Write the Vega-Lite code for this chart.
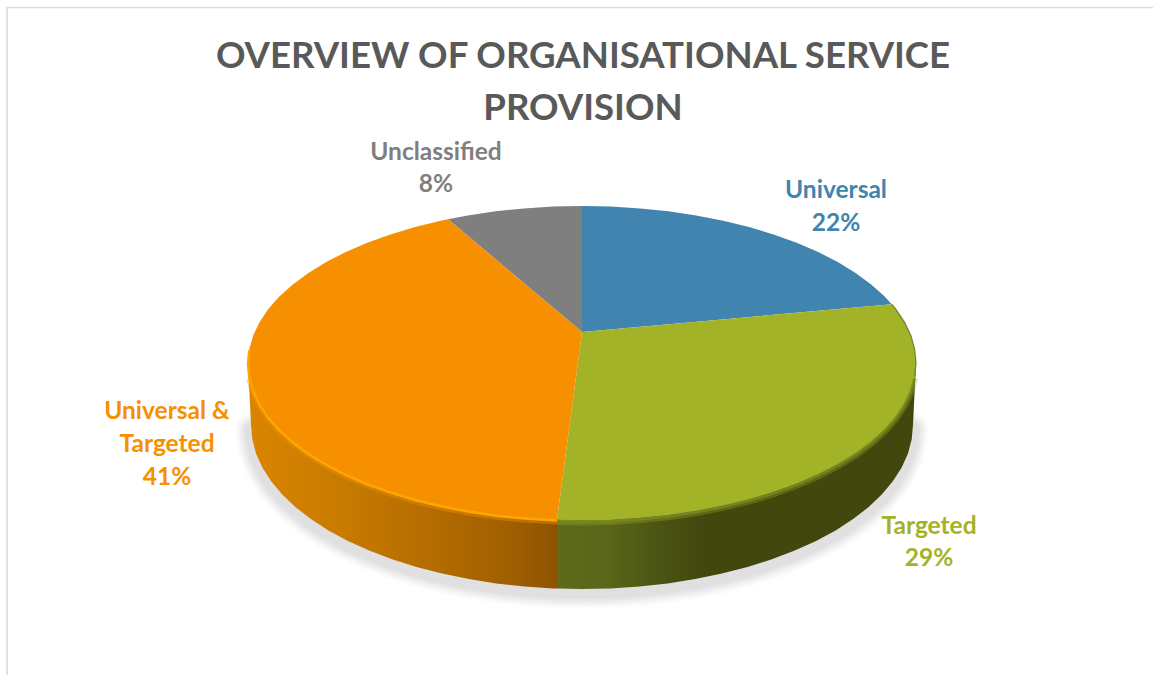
{
"$schema":"https://vega.github.io/schema/vega-lite/v6.json",
"width":1153,"height":675,"padding":0,"autosize":{"type":"none"},"background":"#ffffff",
"config":{"view":{"stroke":null}},
"title":{"text":["OVERVIEW OF ORGANISATIONAL SERVICE","PROVISION"],"anchor":"middle","dx":6.5,"dy":157,"offset":0,"baseline":"alphabetic","font":"Lato","fontSize":36.6,"fontWeight":"bold","lineHeight":52,"color":"#595959"},
"datasets":{
"outline":[
{"part":"universal","i":0,"x":582,"y":332},{"part":"universal","i":1,"x":582,"y":206},{"part":"universal","i":2,"x":611.1,"y":206.6},{"part":"universal","i":3,"x":640,"y":208.4},{"part":"universal","i":4,"x":668.4,"y":211.3},{"part":"universal","i":5,"x":696.2,"y":215.5},{"part":"universal","i":6,"x":723.2,"y":220.7},{"part":"universal","i":7,"x":749,"y":227},{"part":"universal","i":8,"x":773.6,"y":234.4},{"part":"universal","i":9,"x":796.7,"y":242.7},{"part":"universal","i":10,"x":818.2,"y":252},{"part":"universal","i":11,"x":837.8,"y":262.1},{"part":"universal","i":12,"x":855.6,"y":272.9},{"part":"universal","i":13,"x":871.2,"y":284.5},{"part":"universal","i":14,"x":884.7,"y":296.6},{"part":"universal","i":15,"x":891.7,"y":304.2},
{"part":"targeted","i":0,"x":582,"y":332},{"part":"targeted","i":1,"x":891.7,"y":304.2},{"part":"targeted","i":2,"x":895.9,"y":309.3},{"part":"targeted","i":3,"x":904.6,"y":322.4},{"part":"targeted","i":4,"x":910.9,"y":335.7},{"part":"targeted","i":5,"x":914.7,"y":349.3},{"part":"targeted","i":6,"x":916,"y":363},{"part":"targeted","i":7,"x":914.7,"y":376.7},{"part":"targeted","i":8,"x":910.9,"y":390.3},{"part":"targeted","i":9,"x":904.6,"y":403.6},{"part":"targeted","i":10,"x":895.9,"y":416.7},{"part":"targeted","i":11,"x":884.7,"y":429.4},{"part":"targeted","i":12,"x":871.2,"y":441.5},{"part":"targeted","i":13,"x":855.6,"y":453.1},{"part":"targeted","i":14,"x":837.8,"y":463.9},{"part":"targeted","i":15,"x":818.2,"y":474},{"part":"targeted","i":16,"x":796.7,"y":483.3},{"part":"targeted","i":17,"x":773.6,"y":491.6},{"part":"targeted","i":18,"x":749,"y":499},{"part":"targeted","i":19,"x":723.2,"y":505.3},{"part":"targeted","i":20,"x":696.2,"y":510.5},{"part":"targeted","i":21,"x":668.4,"y":514.7},{"part":"targeted","i":22,"x":640,"y":517.6},{"part":"targeted","i":23,"x":611.1,"y":519.4},{"part":"targeted","i":24,"x":582,"y":520},{"part":"targeted","i":25,"x":557,"y":519.5},
{"part":"mixed","i":0,"x":582,"y":332},{"part":"mixed","i":1,"x":557,"y":519.5},{"part":"mixed","i":2,"x":524,"y":517.6},{"part":"mixed","i":3,"x":495.6,"y":514.7},{"part":"mixed","i":4,"x":467.8,"y":510.5},{"part":"mixed","i":5,"x":440.8,"y":505.3},{"part":"mixed","i":6,"x":415,"y":499},{"part":"mixed","i":7,"x":390.4,"y":491.6},{"part":"mixed","i":8,"x":367.3,"y":483.3},{"part":"mixed","i":9,"x":345.8,"y":474},{"part":"mixed","i":10,"x":326.2,"y":463.9},{"part":"mixed","i":11,"x":308.4,"y":453.1},{"part":"mixed","i":12,"x":292.8,"y":441.5},{"part":"mixed","i":13,"x":279.3,"y":429.4},{"part":"mixed","i":14,"x":268.1,"y":416.7},{"part":"mixed","i":15,"x":259.4,"y":403.6},{"part":"mixed","i":16,"x":253.1,"y":390.3},{"part":"mixed","i":17,"x":249.3,"y":376.7},{"part":"mixed","i":18,"x":248,"y":363},{"part":"mixed","i":19,"x":249.3,"y":349.3},{"part":"mixed","i":20,"x":253.1,"y":335.7},{"part":"mixed","i":21,"x":259.4,"y":322.4},{"part":"mixed","i":22,"x":268.1,"y":309.3},{"part":"mixed","i":23,"x":279.3,"y":296.6},{"part":"mixed","i":24,"x":292.8,"y":284.5},{"part":"mixed","i":25,"x":308.4,"y":272.9},{"part":"mixed","i":26,"x":326.2,"y":262.1},{"part":"mixed","i":27,"x":345.8,"y":252},{"part":"mixed","i":28,"x":367.3,"y":242.7},{"part":"mixed","i":29,"x":390.4,"y":234.4},{"part":"mixed","i":30,"x":415,"y":227},{"part":"mixed","i":31,"x":440.8,"y":220.7},{"part":"mixed","i":32,"x":448,"y":219.2},
{"part":"unclassified","i":0,"x":582,"y":332},{"part":"unclassified","i":1,"x":448,"y":219.2},{"part":"unclassified","i":2,"x":467.8,"y":215.5},{"part":"unclassified","i":3,"x":495.6,"y":211.3},{"part":"unclassified","i":4,"x":524,"y":208.4},{"part":"unclassified","i":5,"x":552.9,"y":206.6},{"part":"unclassified","i":6,"x":582,"y":206},
{"part":"targeted_side","i":1,"x":916,"y":363},{"part":"targeted_side","i":2,"x":914.7,"y":376.7},{"part":"targeted_side","i":3,"x":910.9,"y":390.3},{"part":"targeted_side","i":4,"x":904.6,"y":403.6},{"part":"targeted_side","i":5,"x":895.9,"y":416.7},{"part":"targeted_side","i":6,"x":884.7,"y":429.4},{"part":"targeted_side","i":7,"x":871.2,"y":441.5},{"part":"targeted_side","i":8,"x":855.6,"y":453.1},{"part":"targeted_side","i":9,"x":837.8,"y":463.9},{"part":"targeted_side","i":10,"x":818.2,"y":474},{"part":"targeted_side","i":11,"x":796.7,"y":483.3},{"part":"targeted_side","i":12,"x":773.6,"y":491.6},{"part":"targeted_side","i":13,"x":749,"y":499},{"part":"targeted_side","i":14,"x":723.2,"y":505.3},{"part":"targeted_side","i":15,"x":696.2,"y":510.5},{"part":"targeted_side","i":16,"x":668.4,"y":514.7},{"part":"targeted_side","i":17,"x":640,"y":517.6},{"part":"targeted_side","i":18,"x":611.1,"y":519.4},{"part":"targeted_side","i":19,"x":582,"y":520},{"part":"targeted_side","i":20,"x":557,"y":519.5},
{"part":"targeted_side","edge":"base","i":21,"x":557,"y":588.5},{"part":"targeted_side","edge":"base","i":22,"x":582,"y":589},{"part":"targeted_side","edge":"base","i":23,"x":610.8,"y":588.4},{"part":"targeted_side","edge":"base","i":24,"x":639.5,"y":586.5},{"part":"targeted_side","edge":"base","i":25,"x":667.7,"y":583.4},{"part":"targeted_side","edge":"base","i":26,"x":695.2,"y":579.1},{"part":"targeted_side","edge":"base","i":27,"x":721.9,"y":573.6},{"part":"targeted_side","edge":"base","i":28,"x":747.5,"y":567},{"part":"targeted_side","edge":"base","i":29,"x":771.9,"y":559.3},{"part":"targeted_side","edge":"base","i":30,"x":794.8,"y":550.6},{"part":"targeted_side","edge":"base","i":31,"x":816.1,"y":541},{"part":"targeted_side","edge":"base","i":32,"x":835.6,"y":530.4},{"part":"targeted_side","edge":"base","i":33,"x":853.1,"y":519.1},{"part":"targeted_side","edge":"base","i":34,"x":868.7,"y":507},{"part":"targeted_side","edge":"base","i":35,"x":882,"y":494.3},{"part":"targeted_side","edge":"base","i":36,"x":893,"y":481.1},{"part":"targeted_side","edge":"base","i":37,"x":901.7,"y":467.4},{"part":"targeted_side","edge":"base","i":38,"x":908,"y":453.5},{"part":"targeted_side","edge":"base","i":39,"x":911.7,"y":439.3},{"part":"targeted_side","edge":"base","i":40,"x":913,"y":425},
{"part":"mixed_side","i":1,"x":557,"y":519.5},{"part":"mixed_side","i":2,"x":524,"y":517.6},{"part":"mixed_side","i":3,"x":495.6,"y":514.7},{"part":"mixed_side","i":4,"x":467.8,"y":510.5},{"part":"mixed_side","i":5,"x":440.8,"y":505.3},{"part":"mixed_side","i":6,"x":415,"y":499},{"part":"mixed_side","i":7,"x":390.4,"y":491.6},{"part":"mixed_side","i":8,"x":367.3,"y":483.3},{"part":"mixed_side","i":9,"x":345.8,"y":474},{"part":"mixed_side","i":10,"x":326.2,"y":463.9},{"part":"mixed_side","i":11,"x":308.4,"y":453.1},{"part":"mixed_side","i":12,"x":292.8,"y":441.5},{"part":"mixed_side","i":13,"x":279.3,"y":429.4},{"part":"mixed_side","i":14,"x":268.1,"y":416.7},{"part":"mixed_side","i":15,"x":259.4,"y":403.6},{"part":"mixed_side","i":16,"x":253.1,"y":390.3},{"part":"mixed_side","i":17,"x":249.3,"y":376.7},{"part":"mixed_side","i":18,"x":248,"y":363},
{"part":"mixed_side","edge":"base","i":19,"x":251,"y":425},{"part":"mixed_side","edge":"base","i":20,"x":252.3,"y":439.3},{"part":"mixed_side","edge":"base","i":21,"x":256,"y":453.5},{"part":"mixed_side","edge":"base","i":22,"x":262.3,"y":467.4},{"part":"mixed_side","edge":"base","i":23,"x":271,"y":481.1},{"part":"mixed_side","edge":"base","i":24,"x":282,"y":494.3},{"part":"mixed_side","edge":"base","i":25,"x":295.3,"y":507},{"part":"mixed_side","edge":"base","i":26,"x":310.9,"y":519.1},{"part":"mixed_side","edge":"base","i":27,"x":328.4,"y":530.4},{"part":"mixed_side","edge":"base","i":28,"x":347.9,"y":541},{"part":"mixed_side","edge":"base","i":29,"x":369.2,"y":550.6},{"part":"mixed_side","edge":"base","i":30,"x":392.1,"y":559.3},{"part":"mixed_side","edge":"base","i":31,"x":416.5,"y":567},{"part":"mixed_side","edge":"base","i":32,"x":442.1,"y":573.6},{"part":"mixed_side","edge":"base","i":33,"x":468.8,"y":579.1},{"part":"mixed_side","edge":"base","i":34,"x":496.3,"y":583.4},{"part":"mixed_side","edge":"base","i":35,"x":524.5,"y":586.5},{"part":"mixed_side","edge":"base","i":36,"x":553.2,"y":588.4},{"part":"mixed_side","edge":"base","i":37,"x":557,"y":588.5},
{"part":"frame","i":1,"x":7,"y":675},{"part":"frame","i":2,"x":7,"y":7.5},{"part":"frame","i":3,"x":1153,"y":7.5}
],
"labels":[
{"text":"Universal","x":836,"y":191,"group":"Universal"},{"text":"22%","x":836,"y":224,"group":"Universal"},
{"text":"Targeted","x":929,"y":527,"group":"Targeted"},{"text":"29%","x":929,"y":559,"group":"Targeted"},
{"text":"Universal &","x":167,"y":412,"group":"Universal & Targeted"},{"text":"Targeted","x":167,"y":445,"group":"Universal & Targeted"},{"text":"41%","x":167,"y":478,"group":"Universal & Targeted"},
{"text":"Unclassified","x":436,"y":153,"group":"Unclassified"},{"text":"8%","x":436,"y":185,"group":"Unclassified"}
]
},
"encoding":{
"x":{"field":"x","type":"quantitative","axis":null,"scale":{"domain":[0,1153],"nice":false,"zero":false}},
"y":{"field":"y","type":"quantitative","axis":null,"scale":{"domain":[675,0],"nice":false,"zero":false}}
},
"layer":[
{"data":{"name":"outline"},"transform":[{"filter":"datum.edge==='base'"}],"mark":{"type":"line","stroke":"#707070","strokeWidth":32,"opacity":0.02,"yOffset":4,"strokeCap":"round"},"encoding":{"order":{"field":"x"}}},
{"data":{"name":"outline"},"transform":[{"filter":"datum.edge==='base'"}],"mark":{"type":"line","stroke":"#707070","strokeWidth":28,"opacity":0.03,"yOffset":4,"strokeCap":"round"},"encoding":{"order":{"field":"x"}}},
{"data":{"name":"outline"},"transform":[{"filter":"datum.edge==='base'"}],"mark":{"type":"line","stroke":"#707070","strokeWidth":24,"opacity":0.04,"yOffset":4,"strokeCap":"round"},"encoding":{"order":{"field":"x"}}},
{"data":{"name":"outline"},"transform":[{"filter":"datum.edge==='base'"}],"mark":{"type":"line","stroke":"#707070","strokeWidth":20,"opacity":0.04,"yOffset":4,"strokeCap":"round"},"encoding":{"order":{"field":"x"}}},
{"data":{"name":"outline"},"transform":[{"filter":"datum.edge==='base'"}],"mark":{"type":"line","stroke":"#707070","strokeWidth":16,"opacity":0.05,"yOffset":4,"strokeCap":"round"},"encoding":{"order":{"field":"x"}}},
{"data":{"name":"outline"},"transform":[{"filter":"datum.edge==='base'"}],"mark":{"type":"line","stroke":"#707070","strokeWidth":12,"opacity":0.05,"yOffset":4,"strokeCap":"round"},"encoding":{"order":{"field":"x"}}},
{"data":{"name":"outline"},"transform":[{"filter":"datum.part==='targeted_side'"}],"mark":{"type":"line","filled":true,"strokeWidth":0,"fill":{"gradient":"linear","x1":0,"y1":0,"x2":1,"y2":0,"stops":[{"offset":0,"color":"#5E6B1B"},{"offset":0.15,"color":"#596518"},{"offset":0.3,"color":"#495212"},{"offset":0.42,"color":"#42470E"},{"offset":1,"color":"#42470E"}]}},"encoding":{"order":{"field":"i"}}},
{"data":{"name":"outline"},"transform":[{"filter":"datum.part==='mixed_side'"}],"mark":{"type":"line","filled":true,"strokeWidth":0,"fill":{"gradient":"linear","x1":0,"y1":0,"x2":1,"y2":0,"stops":[{"offset":0,"color":"#DA8500"},{"offset":0.3,"color":"#C87B00"},{"offset":0.6,"color":"#B46C00"},{"offset":0.85,"color":"#A05F00"},{"offset":1,"color":"#8F5200"}]}},"encoding":{"order":{"field":"i"}}},
{"data":{"name":"outline"},"transform":[{"filter":"datum.part==='universal'"}],"mark":{"type":"line","filled":true,"strokeWidth":0,"fill":"#4084AF"},"encoding":{"order":{"field":"i"}}},
{"data":{"name":"outline"},"transform":[{"filter":"datum.part==='unclassified'"}],"mark":{"type":"line","filled":true,"strokeWidth":0,"fill":"#7F7F7F"},"encoding":{"order":{"field":"i"}}},
{"data":{"name":"outline"},"transform":[{"filter":"datum.part==='targeted'"}],"mark":{"type":"line","filled":true,"strokeWidth":0,"fill":"#A3B327"},"encoding":{"order":{"field":"i"}}},
{"data":{"name":"outline"},"transform":[{"filter":"datum.part==='mixed'"}],"mark":{"type":"line","filled":true,"strokeWidth":0,"fill":"#F69000"},"encoding":{"order":{"field":"i"}}},
{"data":{"name":"outline"},"transform":[{"filter":"datum.part==='targeted' && datum.i>=7"}],"mark":{"type":"line","stroke":"#A3B327","strokeWidth":7,"opacity":0.3,"yOffset":2},"encoding":{"order":{"field":"i"}}},
{"data":{"name":"outline"},"transform":[{"filter":"datum.part==='targeted' && datum.i>=7"}],"mark":{"type":"line","stroke":"#7C8A20","strokeWidth":3,"opacity":0.8,"yOffset":1.5},"encoding":{"order":{"field":"i"}}},
{"data":{"name":"outline"},"transform":[{"filter":"datum.part==='targeted' && datum.i>=1 && datum.i<=7"}],"mark":{"type":"line","stroke":"#5E6820","strokeWidth":1.2,"opacity":0.8},"encoding":{"order":{"field":"i"}}},
{"data":{"name":"outline"},"transform":[{"filter":"datum.part==='mixed' && datum.i>=1 && datum.i<=17"}],"mark":{"type":"line","stroke":"#F69000","strokeWidth":6,"opacity":0.4,"yOffset":2},"encoding":{"order":{"field":"i"}}},
{"data":{"name":"outline"},"transform":[{"filter":"datum.part==='mixed' && datum.i>=1 && datum.i<=19"}],"mark":{"type":"line","stroke":"#FFA500","strokeWidth":2.5,"yOffset":1},"encoding":{"order":{"field":"i"}}},
{"data":{"name":"labels"},"mark":{"type":"text","font":"Lato","fontSize":24.5,"fontWeight":"bold","align":"center","baseline":"middle"},"encoding":{"text":{"field":"text","type":"nominal"},"color":{"field":"group","type":"nominal","legend":null,"scale":{"domain":["Universal","Targeted","Universal & Targeted","Unclassified"],"range":["#4084AF","#A3B327","#F69000","#7F7F7F"]}}}},
{"data":{"name":"outline"},"transform":[{"filter":"datum.part==='frame'"}],"mark":{"type":"line","stroke":"#DCDCDC","strokeWidth":1.7,"strokeJoin":"miter"},"encoding":{"order":{"field":"i"}}}
]
}
